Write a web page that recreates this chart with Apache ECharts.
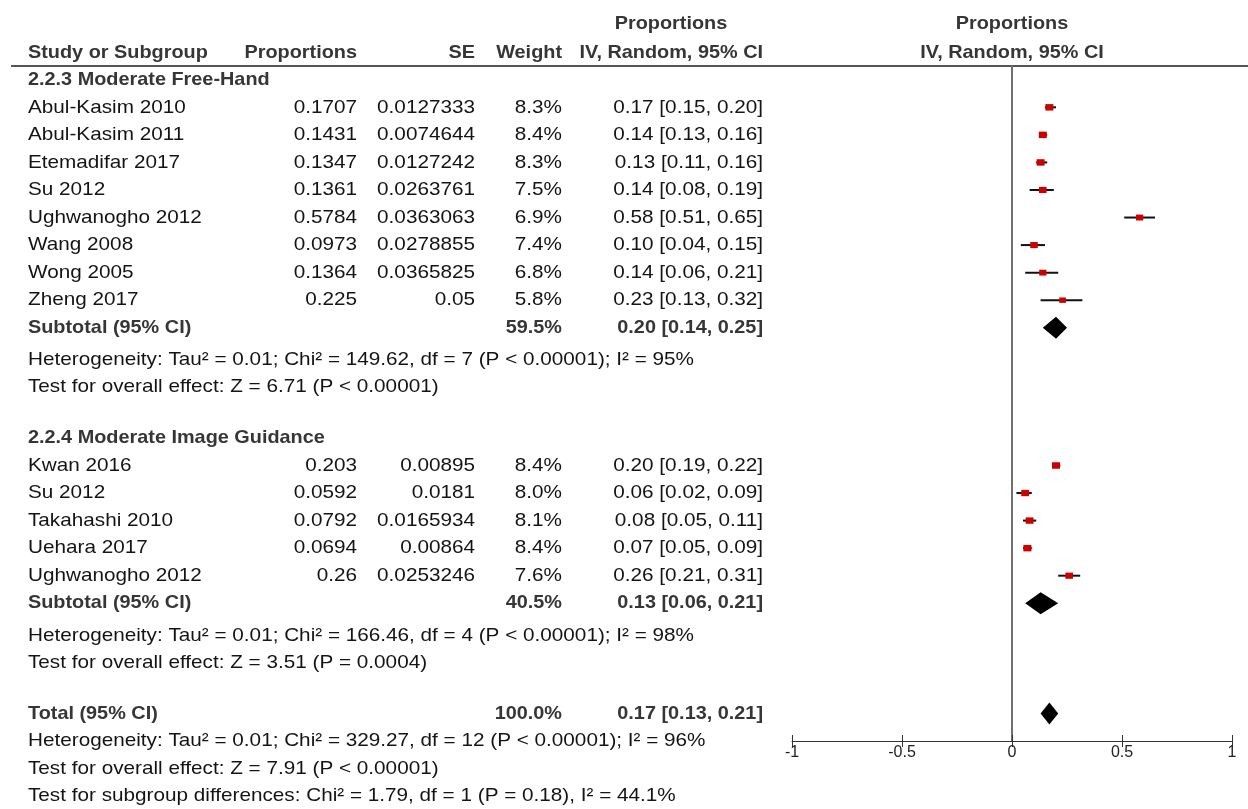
<!DOCTYPE html>
<html>
<head>
<meta charset="utf-8">
<script src="https://cdn.jsdelivr.net/npm/echarts@6/dist/echarts.min.js"></script>
<style>
  html, body { margin: 0; padding: 0; background: #ffffff; }
  #chart { width: 1248px; height: 809px; }
</style>
</head>
<body>
<div id="chart"></div>
<script>
// ---- Subgroup 2.2.3: Moderate Free-Hand ----
const group1Title = '2.2.3 Moderate Free-Hand';
const group1Studies = ['Abul-Kasim 2010', 'Abul-Kasim 2011', 'Etemadifar 2017', 'Su 2012',
  'Ughwanogho 2012', 'Wang 2008', 'Wong 2005', 'Zheng 2017'];
const group1Prop = [0.1707, 0.1431, 0.1347, 0.1361, 0.5784, 0.0973, 0.1364, 0.225];
const group1SE = [0.0127333, 0.0074644, 0.0127242, 0.0263761, 0.0363063, 0.0278855, 0.0365825, 0.05];
const group1Weight = [8.3, 8.4, 8.3, 7.5, 6.9, 7.4, 6.8, 5.8];
const group1Est = [0.17, 0.14, 0.13, 0.14, 0.58, 0.10, 0.14, 0.23];
const group1Lo = [0.15, 0.13, 0.11, 0.08, 0.51, 0.04, 0.06, 0.13];
const group1Hi = [0.20, 0.16, 0.16, 0.19, 0.65, 0.15, 0.21, 0.32];
const group1Subtotal = { weight: 59.5, est: 0.20, lo: 0.14, hi: 0.25 };
const group1Het = 'Heterogeneity: Tau² = 0.01; Chi² = 149.62, df = 7 (P < 0.00001); I² = 95%';
const group1Test = 'Test for overall effect: Z = 6.71 (P < 0.00001)';

// ---- Subgroup 2.2.4: Moderate Image Guidance ----
const group2Title = '2.2.4 Moderate Image Guidance';
const group2Studies = ['Kwan 2016', 'Su 2012', 'Takahashi 2010', 'Uehara 2017', 'Ughwanogho 2012'];
const group2Prop = [0.203, 0.0592, 0.0792, 0.0694, 0.26];
const group2SE = [0.00895, 0.0181, 0.0165934, 0.00864, 0.0253246];
const group2Weight = [8.4, 8.0, 8.1, 8.4, 7.6];
const group2Est = [0.20, 0.06, 0.08, 0.07, 0.26];
const group2Lo = [0.19, 0.02, 0.05, 0.05, 0.21];
const group2Hi = [0.22, 0.09, 0.11, 0.09, 0.31];
const group2Subtotal = { weight: 40.5, est: 0.13, lo: 0.06, hi: 0.21 };
const group2Het = 'Heterogeneity: Tau² = 0.01; Chi² = 166.46, df = 4 (P < 0.00001); I² = 98%';
const group2Test = 'Test for overall effect: Z = 3.51 (P = 0.0004)';

// ---- Overall ----
const overallTotal = { weight: 100.0, est: 0.17, lo: 0.13, hi: 0.21 };
const overallHet = 'Heterogeneity: Tau² = 0.01; Chi² = 329.27, df = 12 (P < 0.00001); I² = 96%';
const overallTest = 'Test for overall effect: Z = 7.91 (P < 0.00001)';
const subgroupTest = 'Test for subgroup differences: Chi² = 1.79, df = 1 (P = 0.18), I² = 44.1%';

const axisTicks = [-1, -0.5, 0, 0.5, 1];

// ---- Row layout (one unit = one table line) ----
const ROW_G1_TITLE = -1;
const ROW_G1_FIRST = 0;
const ROW_G1_SUB = ROW_G1_FIRST + group1Studies.length;      // 8
const ROW_G2_TITLE = ROW_G1_SUB + 4;                          // 12
const ROW_G2_FIRST = ROW_G2_TITLE + 1;                        // 13
const ROW_G2_SUB = ROW_G2_FIRST + group2Studies.length;      // 18
const ROW_TOTAL = ROW_G2_SUB + 4;                             // 22
const ROW_AXIS = ROW_TOTAL + 1;                               // 23

// ---- Column positions and fonts ----
const COL_NAME = 28, COL_PROP = 357, COL_SE = 475, COL_WEIGHT = 562, COL_CI = 763;
const FAMILY = '"Liberation Sans", Arial, Helvetica, sans-serif';
const FONT = '19px ' + FAMILY;
const FONT_B = 'bold 19px ' + FAMILY;
const STRETCH = 1.09;     // regular table text is set slightly wide
const STRETCH_B = 1.045;  // bold table text
const TEXT = '#141414';
const TEXT_B = '#363636';

const fmtCI = (e, l, h) => e.toFixed(2) + ' [' + l.toFixed(2) + ', ' + h.toFixed(2) + ']';
const fmtW = w => w.toFixed(1) + '%';

// Study marks: [estimate, lower, upper, row, weight]
const studyData = [];
group1Studies.forEach((_, i) => studyData.push([group1Est[i], group1Lo[i], group1Hi[i], ROW_G1_FIRST + i, group1Weight[i]]));
group2Studies.forEach((_, i) => studyData.push([group2Est[i], group2Lo[i], group2Hi[i], ROW_G2_FIRST + i, group2Weight[i]]));

// Pooled diamonds: [estimate, lower, upper, row]
const diamondData = [
  [group1Subtotal.est, group1Subtotal.lo, group1Subtotal.hi, ROW_G1_SUB],
  [group2Subtotal.est, group2Subtotal.lo, group2Subtotal.hi, ROW_G2_SUB],
  [overallTotal.est, overallTotal.lo, overallTotal.hi, ROW_TOTAL]
];

function renderStudy(params, api) {
  const lo = api.coord([api.value(1), api.value(3)]);
  const hi = api.coord([api.value(2), api.value(3)]);
  const c = api.coord([api.value(0), api.value(3)]);
  const k = Math.sqrt(api.value(4) / 8.4);
  const bw = 8 * k, bh = 6.5 * k;
  return {
    type: 'group',
    children: [
      { type: 'line', shape: { x1: lo[0], y1: lo[1], x2: hi[0], y2: hi[1] },
        style: { stroke: '#111111', lineWidth: 2 } },
      { type: 'rect', shape: { x: c[0] - bw / 2, y: c[1] - bh / 2, width: bw, height: bh },
        style: { fill: '#cc0000' } }
    ]
  };
}

function renderDiamond(params, api) {
  const lo = api.coord([api.value(1), api.value(3)]);
  const hi = api.coord([api.value(2), api.value(3)]);
  const c = api.coord([api.value(0), api.value(3)]);
  const h = 11;
  return {
    type: 'polygon',
    shape: { points: [[lo[0], lo[1]], [c[0], c[1] - h], [hi[0], hi[1]], [c[0], c[1] + h]] },
    style: { fill: '#000000' }
  };
}

const chart = echarts.init(document.getElementById('chart'), null, { renderer: 'canvas' });

chart.setOption({
  animation: false,
  backgroundColor: '#ffffff',
  grid: { left: 792, width: 440, top: 66, height: 675 },
  xAxis: [
    {
      type: 'value', min: -1, max: 1, interval: 0.5, position: 'bottom',
      axisLine: { show: true, onZero: false, lineStyle: { color: '#333333', width: 1 } },
      axisTick: { show: true, inside: false, length: 6, lineStyle: { color: '#333333', width: 1 } },
      axisLabel: { show: true, margin: 4, color: '#222222', fontSize: 16, fontFamily: FAMILY,
        customValues: axisTicks },
      splitLine: { show: false }
    },
    {
      type: 'value', min: -1, max: 1, interval: 0.5, position: 'bottom', offset: 0,
      axisLine: { show: false, onZero: false },
      axisTick: { show: true, inside: true, length: 6, lineStyle: { color: '#333333', width: 1 } },
      axisLabel: { show: false },
      splitLine: { show: false }
    }
  ],
  yAxis: {
    type: 'value', min: -1.5, max: ROW_AXIS, inverse: true,
    axisLine: { show: true, onZero: true, lineStyle: { color: '#707070', width: 2 } },
    axisTick: { show: false }, axisLabel: { show: false }, splitLine: { show: false }
  },
  series: [
    { type: 'custom', renderItem: renderStudy, data: studyData, encode: { x: [0, 1, 2], y: 3 }, clip: false },
    { type: 'custom', renderItem: renderDiamond, data: diamondData, encode: { x: [0, 1, 2], y: 3 }, clip: false }
  ]
});

// ---- Table text, placed on the same row scale as the plot ----
const rowY = row => chart.convertToPixel({ gridIndex: 0 }, [0, row])[1];
const zeroX = chart.convertToPixel({ gridIndex: 0 }, [0, 0])[0];

const elements = [];
function txt(s, x, y, align, bold) {
  elements.push({
    type: 'text', silent: true,
    x: x, y: y, scaleX: bold ? STRETCH_B : STRETCH,
    style: { text: s, x: 0, y: 0, font: bold ? FONT_B : FONT, fill: bold ? TEXT_B : TEXT,
      align: align, verticalAlign: 'middle', textAlign: align, textVerticalAlign: 'middle' }
  });
}

// Column headers
txt('Proportions', 671, 24, 'center', true);
txt('Study or Subgroup', COL_NAME, 53, 'left', true);
txt('Proportions', COL_PROP, 53, 'right', true);
txt('SE', COL_SE, 53, 'right', true);
txt('Weight', COL_WEIGHT, 53, 'right', true);
txt('IV, Random, 95% CI', COL_CI, 53, 'right', true);
txt('Proportions', zeroX, 24, 'center', true);
txt('IV, Random, 95% CI', zeroX, 53, 'center', true);

function studyRows(names, prop, se, weight, est, lo, hi, firstRow) {
  names.forEach((n, i) => {
    const y = rowY(firstRow + i);
    txt(n, COL_NAME, y, 'left', false);
    txt(String(prop[i]), COL_PROP, y, 'right', false);
    txt(String(se[i]), COL_SE, y, 'right', false);
    txt(fmtW(weight[i]), COL_WEIGHT, y, 'right', false);
    txt(fmtCI(est[i], lo[i], hi[i]), COL_CI, y, 'right', false);
  });
}
function pooledRow(label, p, row) {
  const y = rowY(row);
  txt(label, COL_NAME, y, 'left', true);
  txt(fmtW(p.weight), COL_WEIGHT, y, 'right', true);
  txt(fmtCI(p.est, p.lo, p.hi), COL_CI, y, 'right', true);
}

txt(group1Title, COL_NAME, rowY(ROW_G1_TITLE), 'left', true);
studyRows(group1Studies, group1Prop, group1SE, group1Weight, group1Est, group1Lo, group1Hi, ROW_G1_FIRST);
pooledRow('Subtotal (95% CI)', group1Subtotal, ROW_G1_SUB);
txt(group1Het, COL_NAME, rowY(ROW_G1_SUB + 1.18), 'left', false);
txt(group1Test, COL_NAME, rowY(ROW_G1_SUB + 2.16), 'left', false);

txt(group2Title, COL_NAME, rowY(ROW_G2_TITLE), 'left', true);
studyRows(group2Studies, group2Prop, group2SE, group2Weight, group2Est, group2Lo, group2Hi, ROW_G2_FIRST);
pooledRow('Subtotal (95% CI)', group2Subtotal, ROW_G2_SUB);
txt(group2Het, COL_NAME, rowY(ROW_G2_SUB + 1.18), 'left', false);
txt(group2Test, COL_NAME, rowY(ROW_G2_SUB + 2.16), 'left', false);

pooledRow('Total (95% CI)', overallTotal, ROW_TOTAL);
txt(overallHet, COL_NAME, rowY(ROW_TOTAL + 1), 'left', false);
txt(overallTest, COL_NAME, rowY(ROW_TOTAL + 2), 'left', false);
txt(subgroupTest, COL_NAME, rowY(ROW_TOTAL + 3), 'left', false);

// Header rule
const headerY = rowY(-1.5);
elements.push({
  type: 'line', silent: true,
  shape: { x1: 11, y1: headerY, x2: 1248, y2: headerY },
  style: { stroke: '#555555', lineWidth: 2 }
});

chart.setOption({ graphic: { elements: elements } });
</script>
</body>
</html>
